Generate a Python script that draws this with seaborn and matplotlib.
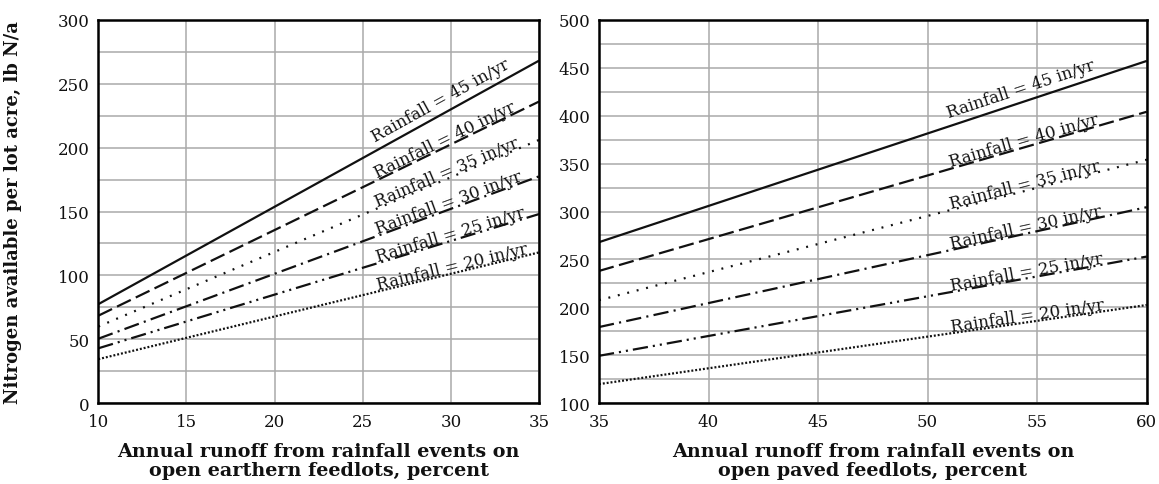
import numpy as np
import pandas as pd
import matplotlib
matplotlib.use("Agg")
import matplotlib.pyplot as plt
import seaborn as sns

# ---------------- data ----------------
rainfall = [45, 40, 35, 30, 25, 20]

earthen_x = [10, 35]
earthen_45 = [77.5, 268]
earthen_40 = [68.5, 236]
earthen_35 = [60, 206]
earthen_30 = [50.5, 177.5]
earthen_25 = [43, 148]
earthen_20 = [34.5, 118]

paved_x = [35, 60]
paved_45 = [268, 457]
paved_40 = [238, 404]
paved_35 = [207.5, 354]
paved_30 = [179.5, 304.5]
paved_25 = [149.5, 253]
paved_20 = [120, 202.5]

earthen_xticks = [10, 15, 20, 25, 30, 35]
earthen_yticks = [0, 50, 100, 150, 200, 250, 300]
paved_xticks = [35, 40, 45, 50, 55, 60]
paved_yticks = [100, 150, 200, 250, 300, 350, 400, 450, 500]

ylabel = "Nitrogen available per lot acre, lb N/a"
xlabel_left = "Annual runoff from rainfall events on\nopen earthern feedlots, percent"
xlabel_right = "Annual runoff from rainfall events on\nopen paved feedlots, percent"

# ---------------- styling ----------------
sns.set_style("white")
plt.rcParams["font.family"] = ["DejaVu Serif"]
plt.rcParams["lines.scale_dashes"] = False

LINE_COLOR = "#111111"
GRID_COLOR = "#aaaaaa"
dash_styles = {
    45: None,
    40: (11, 4),
    35: (1.4, 5.6),
    30: (11, 3.8, 1.5, 3.8),
    25: (11, 3.6, 1.5, 3.6, 1.5, 3.6),
    20: (1.4, 1.4),
}
label_offset = {45: 6, 40: 1.5, 35: 1.5, 30: 1.5, 25: 1.5, 20: 1.5}

fig = plt.figure(figsize=(11.59, 4.85), dpi=100)
ax1 = fig.add_axes([0.0848, 0.1664, 0.4651 - 0.0848, 0.9573 - 0.1664])
ax2 = fig.add_axes([0.5168, 0.1664, 0.9894 - 0.5168, 0.9573 - 0.1664])

panels = [
    (ax1, earthen_x, [earthen_45, earthen_40, earthen_35, earthen_30, earthen_25, earthen_20],
     (10, 35), (0, 300), earthen_xticks, earthen_yticks, 25, 25.9, xlabel_left),
    (ax2, paved_x, [paved_45, paved_40, paved_35, paved_30, paved_25, paved_20],
     (35, 60), (100, 500), paved_xticks, paved_yticks, 25, 51.1, xlabel_right),
]

for ax, xs, series, xlim, ylim, xt, yt, ystep, xlab, xlabel in panels:
    ax.set_xlim(*xlim)
    ax.set_ylim(*ylim)
    ax.set_xticks(xt)
    ax.set_yticks(yt)
    ax.set_yticks(np.arange(ylim[0], ylim[1] + 1, ystep), minor=True)
    ax.grid(True, which="both", color=GRID_COLOR, linewidth=1.1, zorder=0)
    ax.set_axisbelow(True)
    for sp in ax.spines.values():
        sp.set_visible(True)
        sp.set_color("black")
        sp.set_linewidth(1.8)
        sp.set_zorder(5)
    ax.tick_params(which="both", length=0, labelsize=12, colors="#111111")
    ax.tick_params(axis="x", pad=7)
    ax.tick_params(axis="y", pad=6)

    for r, ys in zip(rainfall, series):
        df = pd.DataFrame({"x": xs, "y": ys})
        sns.lineplot(data=df, x="x", y="y", ax=ax, color=LINE_COLOR,
                     linewidth=1.6, zorder=3)
        line = ax.lines[-1]
        line.set_solid_capstyle("butt")
        line.set_dash_capstyle("butt")
        if dash_styles[r] is not None:
            line.set_dashes(dash_styles[r])

        # label along the line
        y0 = ys[0] + (ys[1] - ys[0]) * (xlab - xs[0]) / (xs[1] - xs[0])
        p0 = ax.transData.transform((xs[0], ys[0]))
        p1 = ax.transData.transform((xs[1], ys[1]))
        ang = np.degrees(np.arctan2(p1[1] - p0[1], p1[0] - p0[0]))
        off = label_offset[r]
        dx = -off * np.sin(np.radians(ang))
        dy = off * np.cos(np.radians(ang))
        ax.annotate(f"Rainfall = {r} in/yr", xy=(xlab, y0), xytext=(dx, dy),
                    textcoords="offset points", rotation=ang,
                    rotation_mode="anchor", ha="left", va="baseline",
                    fontsize=12, color=LINE_COLOR, zorder=4)

    ax.set_xlabel(xlabel, fontsize=13.8, fontweight="bold", linespacing=1.12,
                  color="#111111")
    ax.xaxis.set_label_coords(0.5, -0.1)
    ax.set_ylabel("")

ax1.set_ylabel(ylabel, fontsize=13.0, fontweight="bold", color="#111111")
ax1.yaxis.set_label_coords(-0.173, 0.5)

fig.savefig("out.png", dpi=100)
